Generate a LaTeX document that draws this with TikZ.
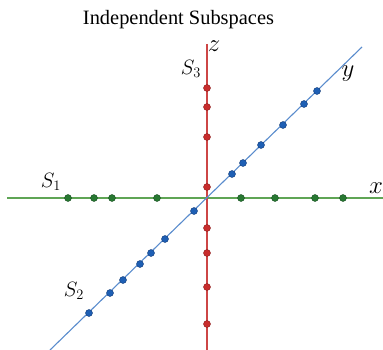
\documentclass[tikz,border=0pt]{standalone}
\usepackage{fontspec}
\setmainfont{Liberation Serif}
\begin{document}
\begin{tikzpicture}[x=1pt,y=-1pt,
  gline/.style={draw={rgb,255:red,95;green,165;blue,85},line width=1.1pt},
  rline/.style={draw={rgb,255:red,205;green,70;blue,70},line width=1.1pt},
  bline/.style={draw={rgb,255:red,90;green,140;blue,205},line width=1.1pt},
  gdot/.style={circle,inner sep=0pt,minimum size=7pt,fill={rgb,255:red,40;green,120;blue,50},draw={rgb,255:red,25;green,80;blue,35},line width=0.4pt},
  rdot/.style={circle,inner sep=0pt,minimum size=7pt,fill={rgb,255:red,200;green,45;blue,45},draw={rgb,255:red,140;green,30;blue,30},line width=0.4pt},
  bdot/.style={circle,inner sep=0pt,minimum size=7pt,fill={rgb,255:red,30;green,95;blue,180},draw={rgb,255:red,20;green,60;blue,120},line width=0.4pt},
  slab/.style={inner sep=0pt,font=\fontsize{21}{21}\selectfont},
  alab/.style={inner sep=0pt,font=\fontsize{24}{24}\selectfont}]
\useasboundingbox (0,0) rectangle (383,350);
\node[inner sep=0pt,anchor=base] (title) at (178.5,25) {\resizebox{191pt}{!}{\fontsize{18}{18}\selectfont Independent Subspaces}};
\coordinate (xl) at (7,198);
\coordinate (xr) at (383,198);
\coordinate (zt) at (207,44);
\coordinate (zb) at (207,350);
\coordinate (yt) at (362,47);
\coordinate (yb) at (50,350);
\draw[gline] (xl) -- (xr);
\draw[rline] (zt) -- (zb);
\draw[bline] (yb) -- (yt);
\foreach \x [count=\i] in {68,94,112,157,241,275,315,343}
  \node[gdot] (g\i) at (\x,198) {};
\foreach \y [count=\i] in {88,107,137,187,228,253,287,324}
  \node[rdot] (r\i) at (207,\y) {};
\foreach \x/\y [count=\i] in {317/91,304/104,283/125,261/145,243/163,232/174,194/211,165/239,151/253,140/264,123/280,110/293,89/313}
  \node[bdot] (b\i) at (\x,\y) {};
\node[alab] (zlab) at (214,46) {$z$};
\node[slab] (s3) at (191,69) {$S_3$};
\node[alab] (ylab) at (348,74) {$y$};
\node[slab] (s1) at (51,182) {$S_1$};
\node[alab] (xlab) at (376,188) {$x$};
\node[slab] (s2) at (74,291) {$S_2$};
\end{tikzpicture}
\end{document}
